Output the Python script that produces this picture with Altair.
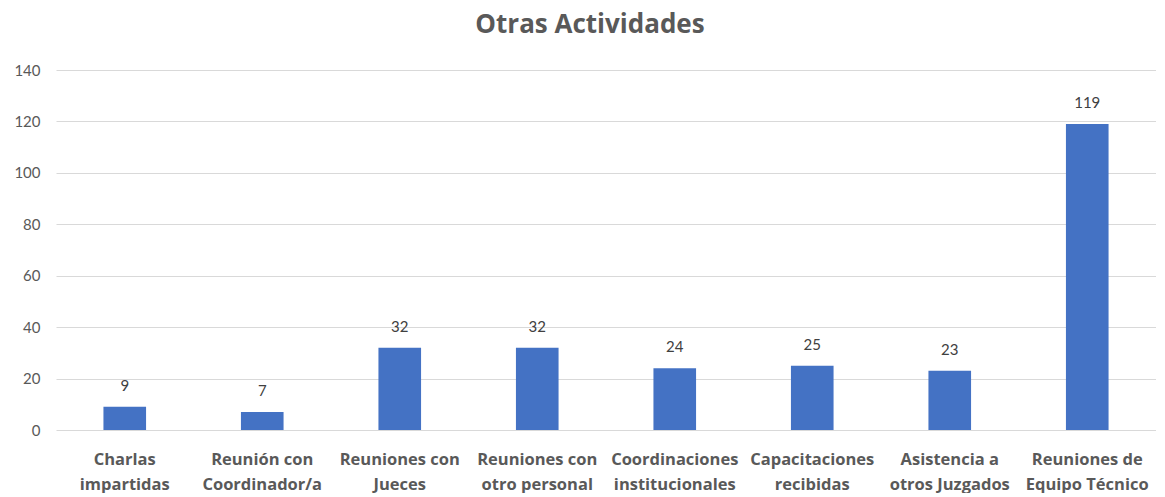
import altair as alt
import pandas as pd

categories = [
    "Charlas\nimpartidas",
    "Reunión con\nCoordinador/a",
    "Reuniones con\nJueces",
    "Reuniones con\notro personal",
    "Coordinaciones\ninstitucionales",
    "Capacitaciones\nrecibidas",
    "Asistencia a\notros Juzgados",
    "Reuniones de\nEquipo Técnico",
]
values = [9, 7, 32, 32, 24, 25, 23, 119]
y_ticks = [0, 20, 40, 60, 80, 100, 120, 140]

df = pd.DataFrame({"cat": categories, "val": values})

FONT = "Open Sans"
GRAY = "#595959"

x = alt.X(
    "cat:N",
    sort=categories,
    title=None,
    scale=alt.Scale(paddingInner=0.69, paddingOuter=0.345),
    axis=alt.Axis(
        labelExpr="split(datum.label, '\\n')",
        labelAngle=0,
        labelFont=FONT,
        labelFontSize=16.5,
        labelFontWeight="bold",
        labelColor=GRAY,
        labelPadding=29,
        labelLineHeight=25,
        labelBaseline="middle",
        labelBound=False,
        labelOverlap=False,
        ticks=False,
        domain=False,
        grid=False,
    ),
)
y = alt.Y(
    "val:Q",
    title=None,
    scale=alt.Scale(domain=[0, 140], nice=False),
    axis=alt.Axis(
        values=y_ticks,
        labelFont="Lato",
        labelFontSize=15,
        labelColor=GRAY,
        labelPadding=16,
        minExtent=48,
        maxExtent=48,
        ticks=False,
        domain=False,
        grid=True,
        gridColor="#d9d9d9",
        gridWidth=1,
    ),
)

base = alt.Chart(df)
bars = base.mark_bar(color="#4472C4").encode(x=x, y=y)
text = base.mark_text(
    baseline="bottom", dy=-13, font="Lato", fontSize=15, color="#404040"
).encode(x=alt.X("cat:N", sort=categories), y="val:Q", text="val:Q")

chart = (
    alt.layer(bars, text)
    .properties(
        width=1100,
        height=360,
        title=alt.TitleParams(
            "Otras Actividades",
            font=FONT,
            fontSize=26,
            fontWeight="bold",
            color=GRAY,
            anchor="middle",
            dx=-16,
            offset=25,
        ),
        padding={"left": 0, "top": 4, "right": 0, "bottom": 0},
    )
    .configure_view(stroke=None)
)

chart.save("out.html", embed_options={"renderer": "svg", "actions": False})
